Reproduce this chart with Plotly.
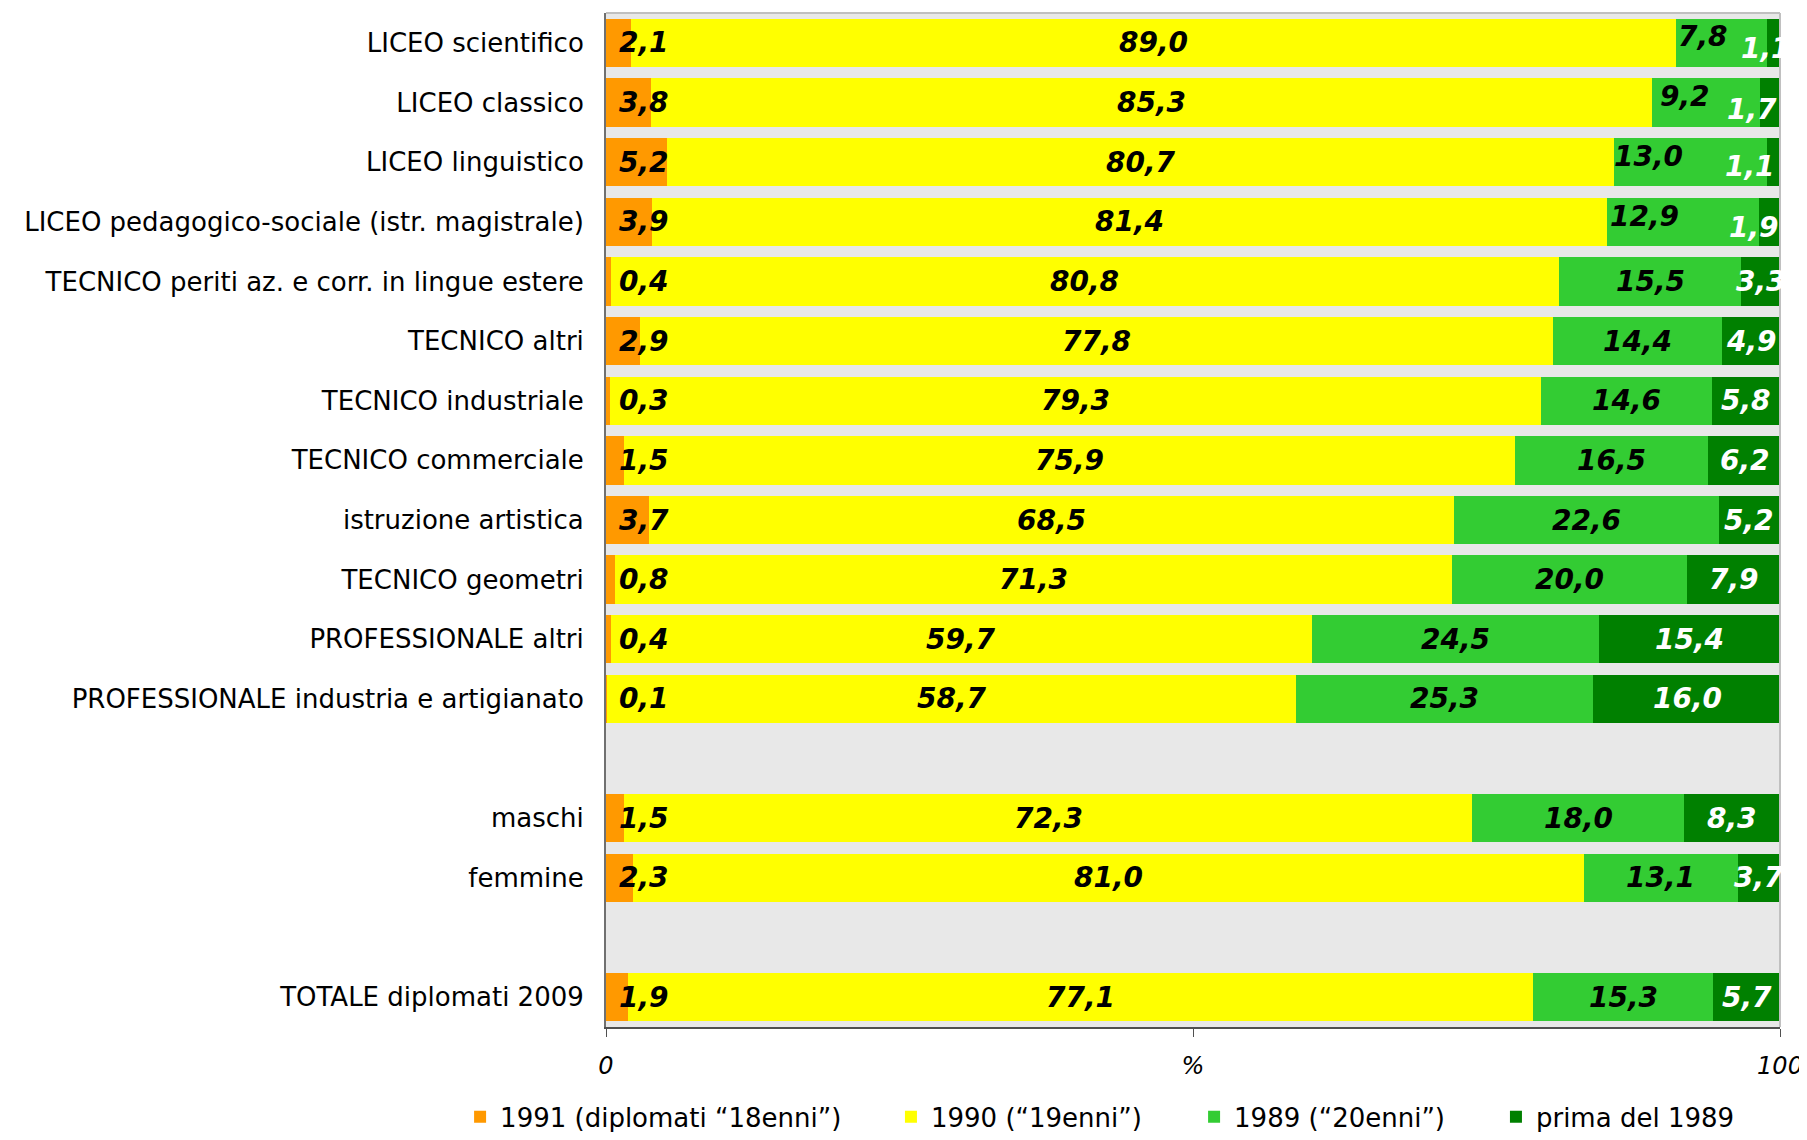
import plotly.graph_objects as go

# ---------------- data ----------------
categories = [
    "LICEO scientifico",
    "LICEO classico",
    "LICEO linguistico",
    "LICEO pedagogico-sociale (istr. magistrale)",
    "TECNICO periti az. e corr. in lingue estere",
    "TECNICO altri",
    "TECNICO industriale",
    "TECNICO commerciale",
    "istruzione artistica",
    "TECNICO geometri",
    "PROFESSIONALE altri",
    "PROFESSIONALE industria e artigianato",
    "maschi",
    "femmine",
    "TOTALE diplomati 2009",
]
group_sizes = [12, 2, 1]

v1991 = [2.1, 3.8, 5.2, 3.9, 0.4, 2.9, 0.3, 1.5, 3.7, 0.8, 0.4, 0.1, 1.5, 2.3, 1.9]
v1990 = [89.0, 85.3, 80.7, 81.4, 80.8, 77.8, 79.3, 75.9, 68.5, 71.3, 59.7, 58.7, 72.3, 81.0, 77.1]
v1989 = [7.8, 9.2, 13.0, 12.9, 15.5, 14.4, 14.6, 16.5, 22.6, 20.0, 24.5, 25.3, 18.0, 13.1, 15.3]
vprima = [1.1, 1.7, 1.1, 1.9, 3.3, 4.9, 5.8, 6.2, 5.2, 7.9, 15.4, 16.0, 8.3, 3.7, 5.7]

series_names = [
    "1991 (diplomati \u201c18enni\u201d)",
    "1990 (\u201c19enni\u201d)",
    "1989 (\u201c20enni\u201d)",
    "prima del 1989",
]
x_ticks = [0, 50, 100]
x_ticktext = ["0", "%", "100"]

# ---------------- style ----------------
colors = ["#FF9900", "#FFFF00", "#33CC33", "#008000"]
label_colors = ["black", "black", "black", "white"]
FONT = "DejaVu Sans, Verdana, sans-serif"
# legend left positions (fraction of figure width), one legend per series
legend_x = [0.2513, 0.4908, 0.6593, 0.8271]

# manual label nudges (pixels) for crowded top rows: (series index, category) -> (dx, dy)
nudges = {
    (2, "LICEO scientifico"): (-18, 6),
    (3, "LICEO scientifico"): (-8, -6),
    (2, "LICEO classico"): (-21, 6),
    (3, "LICEO classico"): (-18, -7),
    (2, "LICEO linguistico"): (-42, 6),
    (3, "LICEO linguistico"): (-24, -4),
    (2, "LICEO pedagogico-sociale (istr. magistrale)"): (-39, 5),
    (3, "LICEO pedagogico-sociale (istr. magistrale)"): (-16, -6),
}

# build row list with blank separator rows between groups
rows = []
idx_rows = []
pos = 0
for g, size in enumerate(group_sizes):
    for k in range(size):
        rows.append(categories[pos + k])
        idx_rows.append(pos + k)
    pos += size
    if g < len(group_sizes) - 1:
        rows.append(" " * (g + 1))
        idx_rows.append(None)

series = [v1991, v1990, v1989, vprima]
legend_ids = ["legend", "legend2", "legend3", "legend4"]

fig = go.Figure()
for s, vals in enumerate(series):
    xs = [vals[i] if i is not None else None for i in idx_rows]
    fig.add_trace(go.Bar(
        y=rows, x=xs, orientation="h", name=series_names[s],
        marker=dict(color=colors[s], line=dict(width=0)),
        hoverinfo="skip", legend=legend_ids[s],
    ))

annotations = []
for ci, cat in enumerate(categories):
    start = 0.0
    for s, vals in enumerate(series):
        v = vals[ci]
        txt = f"{v:.1f}".replace(".", ",")
        if s == 0:
            ax_x, anchor, dx, dy = 0, "left", 11, 0
        else:
            ax_x, anchor = start + v / 2.0, "center"
            dx, dy = nudges.get((s, cat), (0, 0))
        annotations.append(dict(
            x=ax_x, y=cat, xref="x", yref="y", text=txt, showarrow=False,
            xanchor=anchor, yanchor="middle", xshift=dx, yshift=dy,
            font=dict(family=FONT, size=28, color=label_colors[s],
                      weight="bold", style="italic"),
        ))
        start += v

legend_common = dict(
    orientation="h", xref="container", yref="container",
    xanchor="left", y=0.0135, yanchor="middle",
    font=dict(family=FONT, size=26, color="black"),
    bgcolor="rgba(0,0,0,0)",
)

fig.update_layout(
    width=1799, height=1124,
    margin=dict(l=598, r=27, t=5, b=105),
    paper_bgcolor="white",
    plot_bgcolor="#E8E8E8",
    barmode="stack",
    bargap=0.19,
    showlegend=True,
    legend=dict(x=legend_x[0], **legend_common),
    legend2=dict(x=legend_x[1], **legend_common),
    legend3=dict(x=legend_x[2], **legend_common),
    legend4=dict(x=legend_x[3], **legend_common),
    annotations=annotations,
    font=dict(family=FONT, color="black"),
    shapes=[
        dict(type="line", xref="paper", yref="paper", x0=0, x1=1, y0=1, y1=1,
             line=dict(color="#C0C0C0", width=2)),
        dict(type="line", xref="paper", yref="paper", x0=1, x1=1, y0=0, y1=1,
             line=dict(color="#C0C0C0", width=2)),
    ],
)
fig.update_xaxes(
    range=[0, 100], tickvals=x_ticks, ticktext=x_ticktext,
    showgrid=False, zeroline=False,
    showline=True, linecolor="#505050", linewidth=2,
    ticks="outside", ticklen=8, tickcolor="#505050",
    ticklabelstandoff=8, ticklabeloverflow="allow",
    tickfont=dict(family=FONT, size=24, style="italic", color="black"),
    fixedrange=True,
)
fig.update_yaxes(
    type="category", categoryorder="array", categoryarray=rows,
    autorange="reversed",
    showgrid=False, zeroline=False,
    showline=True, linecolor="#707070", linewidth=2,
    ticks="", ticklabelstandoff=15,
    tickfont=dict(family=FONT, size=26, color="black"),
    fixedrange=True,
)

fig.write_html("out.html")
